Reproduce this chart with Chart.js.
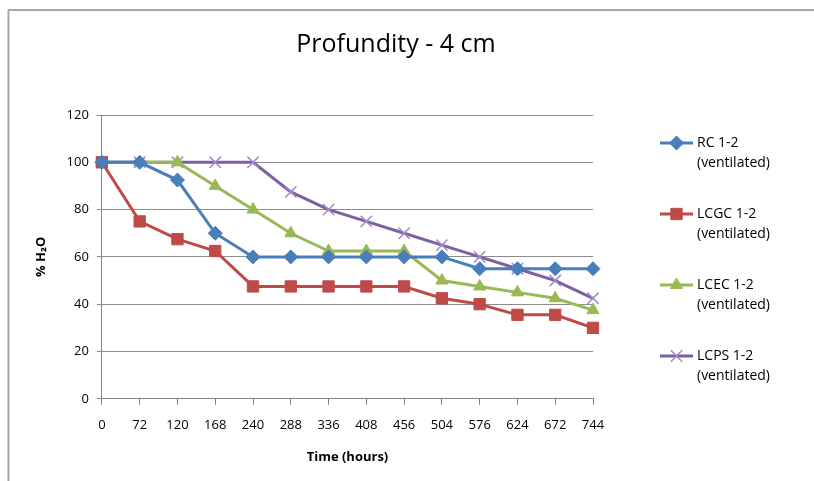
<!DOCTYPE html>
<html>
<head>
<meta charset="utf-8">
<script src="https://cdn.jsdelivr.net/npm/chart.js@4"></script>
<style>
  html, body { margin: 0; padding: 0; background: #fff; }
  #wrap { width: 814px; height: 481px; position: relative; }
</style>
</head>
<body>
<div id="wrap"><canvas id="chart-area"></canvas></div>
<script>
var hours = ['0', '72', '120', '168', '240', '288', '336', '408', '456', '504', '576', '624', '672', '744'];

var rc   = [100, 100, 92.5, 70, 60, 60, 60, 60, 60, 60, 55, 55, 55, 55];
var lcgc = [100, 75, 67.5, 62.5, 47.5, 47.5, 47.5, 47.5, 47.5, 42.5, 40, 35.5, 35.5, 30];
var lcec = [100, 100, 100, 90, 80, 70, 62.5, 62.5, 62.5, 50, 47.5, 45, 42.5, 37.5];
var lcps = [100, 100, 100, 100, 100, 87.5, 80, 75, 70, 65, 60, 55, 50, 42.5];

var seriesNames = [
	['RC 1-2', '(ventilated)'],
	['LCGC 1-2', '(ventilated)'],
	['LCEC 1-2', '(ventilated)'],
	['LCPS 1-2', '(ventilated)']
];

var chartTitle = 'Profundity - 4 cm';

window.chartColors = {
	blue: 'rgb(74, 126, 187)',
	red: 'rgb(190, 75, 72)',
	green: 'rgb(152, 185, 84)',
	purple: 'rgb(125, 96, 160)',
	lilac: 'rgb(160, 140, 200)'
};

var fontFamily = "'Open Sans', 'Liberation Sans', sans-serif";

function series(label, values, color, style, radius, markColor, markWidth) {
	return {
		label: label,
		data: values,
		borderColor: color,
		backgroundColor: color,
		borderWidth: 3,
		pointStyle: style,
		pointRadius: radius,
		pointBorderColor: markColor || color,
		pointBackgroundColor: color,
		pointBorderWidth: markWidth || 1,
		tension: 0
	};
}

// grey frame along top and left edges, plus the title over the whole page
var framePlugin = {
	id: 'frame',
	beforeDraw: function(chart) {
		var ctx = chart.ctx;
		ctx.save();
		ctx.strokeStyle = '#a6a6a6';
		ctx.lineWidth = 2;
		ctx.beginPath();
		ctx.moveTo(8, 10);
		ctx.lineTo(chart.width, 10);
		ctx.moveTo(8.5, 10);
		ctx.lineTo(8.5, chart.height);
		ctx.stroke();

		ctx.fillStyle = '#000';
		ctx.font = '25px ' + fontFamily;
		ctx.textAlign = 'center';
		ctx.textBaseline = 'middle';
		ctx.fillText(chartTitle, 396, 45);
		ctx.restore();
	}
};

// two-line legend on the right
var sideLegend = {
	id: 'sideLegend',
	afterDraw: function(chart) {
		var ctx = chart.ctx;
		var x0 = 660, x1 = 693, tx = 697, y = 143, step = 71;
		ctx.save();
		chart.data.datasets.forEach(function(ds, i) {
			var yy = y + i * step;
			ctx.strokeStyle = ds.borderColor;
			ctx.lineWidth = 3;
			ctx.beginPath();
			ctx.moveTo(x0, yy);
			ctx.lineTo(x1, yy);
			ctx.stroke();
			ctx.fillStyle = ds.pointBackgroundColor;
			ctx.strokeStyle = ds.pointBorderColor;
			ctx.lineWidth = ds.pointBorderWidth;
			Chart.helpers.drawPoint(ctx, {
				pointStyle: ds.pointStyle,
				radius: ds.pointRadius,
				rotation: 0,
				borderWidth: ds.pointBorderWidth
			}, (x0 + x1) / 2, yy);
			ctx.fillStyle = '#000';
			ctx.font = '14px ' + fontFamily;
			ctx.textBaseline = 'middle';
			ctx.textAlign = 'left';
			seriesNames[i].forEach(function(line, j) {
				ctx.fillText(line, tx, yy + j * 20);
			});
		});
		ctx.restore();
	}
};

var config = {
	type: 'line',
	data: {
		labels: hours,
		datasets: [
			series(seriesNames[0].join(' '), rc, window.chartColors.blue, 'rectRot', 7),
			series(seriesNames[1].join(' '), lcgc, window.chartColors.red, 'rect', 8),
			series(seriesNames[2].join(' '), lcec, window.chartColors.green, 'triangle', 7),
			series(seriesNames[3].join(' '), lcps, window.chartColors.purple, 'crossRot', 8, window.chartColors.lilac, 1.5)
		]
	},
	options: {
		responsive: true,
		maintainAspectRatio: false,
		animation: false,
		layout: {
			padding: { left: 29, right: 221, top: 115, bottom: 12 }
		},
		plugins: {
			legend: { display: false },
			tooltip: { enabled: false },
			title: { display: false }
		},
		scales: {
			x: {
				offset: false,
				grid: {
					drawOnChartArea: false,
					drawTicks: true,
					tickLength: 6,
					color: '#868686'
				},
				border: { color: '#868686', width: 1 },
				ticks: {
					color: '#000',
					font: { family: fontFamily, size: 13 },
					maxRotation: 0,
					autoSkip: false,
					padding: 13
				},
				title: {
					display: true,
					text: 'Time (hours)',
					color: '#000',
					font: { family: fontFamily, size: 13, weight: 'bold' },
					padding: { top: 3 }
				}
			},
			y: {
				min: 0,
				max: 120,
				ticks: {
					stepSize: 20,
					color: '#000',
					font: { family: fontFamily, size: 13 },
					padding: 8
				},
				grid: {
					color: '#8c8c8c',
					tickLength: 5
				},
				border: { color: '#868686', width: 1 },
				title: {
					display: true,
					text: '% H₂O',
					color: '#000',
					font: { family: fontFamily, size: 13, weight: 'bold' },
					padding: { bottom: 10 }
				}
			}
		}
	},
	plugins: [framePlugin, sideLegend]
};

window.onload = function() {
	var ctx = document.getElementById('chart-area').getContext('2d');
	window.myLine = new Chart(ctx, config);
};
</script>
</body>
</html>
